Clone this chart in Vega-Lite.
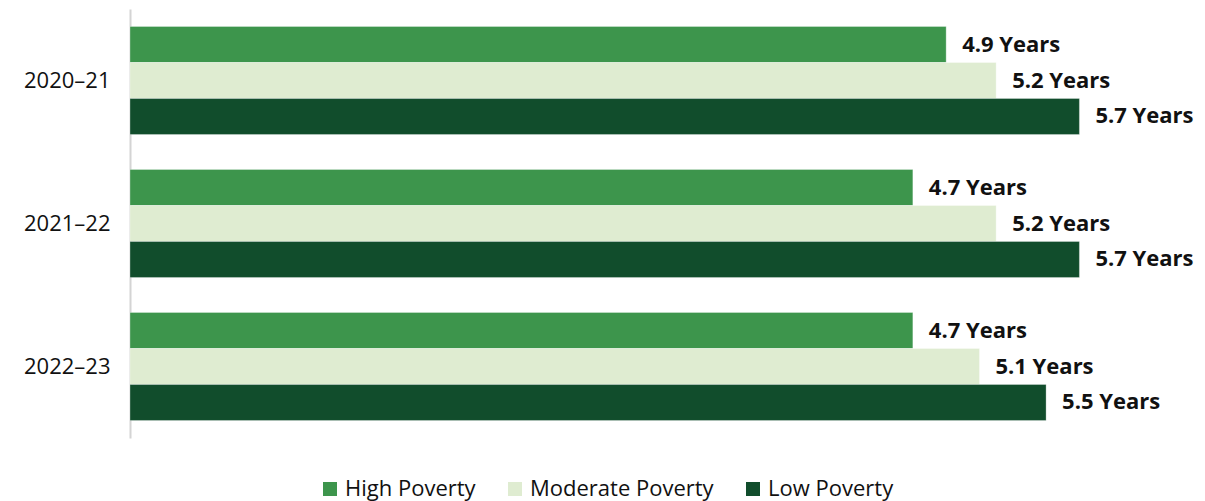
{
  "$schema": "https://vega.github.io/schema/vega-lite/v6.json",
  "width": 1066,
  "height": 429,
  "autosize": {"type": "none"},
  "padding": {"left": 130, "top": 9, "right": 9, "bottom": 63},
  "background": "white",
  "config": {"view": {"stroke": null}, "font": "Open Sans"},
  "data": {"values": [
    {"year": "2020–21", "group": "High Poverty", "value": 4.9, "label": "4.9 Years"},
    {"year": "2020–21", "group": "Moderate Poverty", "value": 5.2, "label": "5.2 Years"},
    {"year": "2020–21", "group": "Low Poverty", "value": 5.7, "label": "5.7 Years"},
    {"year": "2021–22", "group": "High Poverty", "value": 4.7, "label": "4.7 Years"},
    {"year": "2021–22", "group": "Moderate Poverty", "value": 5.2, "label": "5.2 Years"},
    {"year": "2021–22", "group": "Low Poverty", "value": 5.7, "label": "5.7 Years"},
    {"year": "2022–23", "group": "High Poverty", "value": 4.7, "label": "4.7 Years"},
    {"year": "2022–23", "group": "Moderate Poverty", "value": 5.1, "label": "5.1 Years"},
    {"year": "2022–23", "group": "Low Poverty", "value": 5.5, "label": "5.5 Years"}
  ]},
  "encoding": {
    "y": {"field": "year", "type": "nominal", "sort": null,
      "scale": {"paddingInner": 0.245, "paddingOuter": 0.1225},
      "axis": {"title": null, "ticks": false, "domainColor": "#d4d4d4", "domainWidth": 2,
        "labelFontSize": 22, "labelColor": "#111111", "labelPadding": 20, "labelFont": "Open Sans"}},
    "yOffset": {"field": "group", "type": "nominal", "sort": ["High Poverty", "Moderate Poverty", "Low Poverty"],
      "scale": {"paddingInner": 0, "paddingOuter": 0}},
    "x": {"field": "value", "type": "quantitative", "scale": {"domain": [0, 6.4], "nice": false},
      "axis": null}
  },
  "layer": [
    {"mark": {"type": "bar", "stroke": "white", "strokeWidth": 0.5, "strokeOpacity": 0.6},
     "encoding": {
       "color": {"field": "group", "type": "nominal",
         "scale": {"domain": ["High Poverty", "Moderate Poverty", "Low Poverty"],
                   "range": ["#3d954c", "#dfecd1", "#114d2c"]},
         "legend": {"title": null, "orient": "none", "direction": "horizontal",
           "legendX": 189, "legendY": 469, "padding": 0, "symbolType": "square", "symbolSize": 196,
           "symbolStrokeWidth": 0, "labelFontSize": 22, "labelColor": "#111111", "labelFont": "Open Sans",
           "labelOffset": 4, "labelLimit": 400, "columnPadding": 28, "symbolOpacity": 1}
       }}},
    {"mark": {"type": "text", "align": "left", "dx": 16, "fontSize": 22, "fontWeight": "bold", "color": "#111111", "font": "Open Sans"},
     "encoding": {"text": {"field": "label"}}}
  ]
}
